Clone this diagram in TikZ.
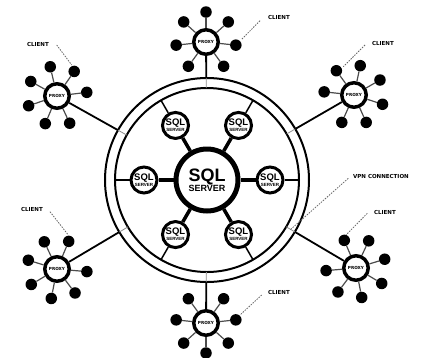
\documentclass[tikz,border=0pt]{standalone}
\usepackage{fontspec}
\setmainfont{Liberation Sans}
\newfontfamily\notefont{DejaVu Sans}
\usetikzlibrary{calc}
\begin{document}
\begin{tikzpicture}[x=1pt,y=1pt,
  hub/.style={circle,draw,line width=5pt,fill=white,minimum size=62pt,inner sep=0pt,align=center,
    font=\bfseries\fontsize{9}{10}\selectfont},
  sat/.style={circle,draw,line width=3pt,fill=white,minimum size=26pt,inner sep=0pt,align=center,
    font=\bfseries\fontsize{4.5}{5.8}\selectfont},
  proxy/.style={circle,draw,line width=3.5pt,fill=white,minimum size=24.5pt,inner sep=0pt,
    font=\notefont\bfseries\fontsize{4.2}{5}\selectfont},
  client/.style={circle,fill=black,minimum size=11.5pt,inner sep=0pt},
  spoke/.style={line width=3.5pt},
  tie/.style={line width=1.5pt},
  link/.style={line width=1.8pt},
  gap/.style={line width=0.8pt,black!45},
  leaf/.style={line width=1.2pt,black!70},
  note/.style={font=\notefont\bfseries\fontsize{5.5}{6}\selectfont,inner sep=0pt},
  lead/.style={line width=0.8pt,black!60,dash pattern=on 1.5pt off 1.2pt}
]
\useasboundingbox (-207,-177) rectangle (215,180);
\coordinate (O) at (0,0);

% VPN ring
\draw[line width=2pt] (O) circle[radius=102pt];
\draw[line width=2pt] (O) circle[radius=92pt];

% central server and its satellites
\node[hub] (sql) at (O) {{\fontsize{18}{18}\selectfont SQL}\\SERVER};
\foreach \k in {0,...,5} {
  \node[sat] (s\k) at (\k*60:63) {{\fontsize{9.5}{9.5}\selectfont SQL}\\SERVER};
  \coordinate (s\k-r) at ($(O)!92pt!(s\k)$);
  \draw[spoke] (sql) -- (s\k);
  \draw[tie] (s\k) -- (s\k-r);
}

% proxies with their clients
\node[proxy] (pT)  at (-1,138)   {PROXY};
\node[proxy] (pUR) at (147,85)   {PROXY};
\node[proxy] (pUL) at (-150,84)  {PROXY};
\node[proxy] (pLL) at (-150,-89) {PROXY};
\node[proxy] (pLR) at (149,-88)  {PROXY};
\node[proxy] (pB)  at (-1,-143)  {PROXY};

\foreach \n/\t in {pT/270,pUR/210,pUL/331,pLL/31,pLR/149,pB/90} {
  \coordinate (\n-o) at ($(O)!102pt!(\n)$);
  \coordinate (\n-i) at ($(O)!92pt!(\n)$);
  \draw[link] (\n) -- (\n-o);
  \draw[gap] (\n-o) -- (\n-i);
  \foreach \k in {0,...,6} {
    \pgfmathsetmacro\a{\t+36+48*\k}
    \node[client] (\n-c\k) at ($(\n)+(\a:30)$) {};
    \draw[leaf] (\n) -- (\n-c\k);
  }
}

% labels with dashed leaders
\node[note] (lT) at (72,163) {CLIENT};
\coordinate (lT-a) at (53,159.3);  \coordinate (lT-b) at (34.7,140.7);
\draw[lead] (lT-a) -- (lT-b);

\node[note] (lUL) at (-169,136) {CLIENT};
\coordinate (lUL-a) at (-150.3,135); \coordinate (lUL-b) at (-135.3,115);
\draw[lead] (lUL-a) -- (lUL-b);

\node[note] (lUR) at (176,137) {CLIENT};
\coordinate (lUR-a) at (158,135); \coordinate (lUR-b) at (136.3,113.3);
\draw[lead] (lUR-a) -- (lUR-b);

\node[note] (lLL) at (-175,-29) {CLIENT};
\coordinate (lLL-a) at (-157,-31.7); \coordinate (lLL-b) at (-138.7,-55);
\draw[lead] (lLL-a) -- (lLL-b);

\node[note] (lLR) at (178,-32) {CLIENT};
\coordinate (lLR-a) at (160.3,-33.3); \coordinate (lLR-b) at (139,-55);
\draw[lead] (lLR-a) -- (lLR-b);

\node[note] (lVPN) at (174,4) {VPN CONNECTION};
\coordinate (lVPN-a) at (141.3,1.7); \coordinate (lVPN-b) at (83,-50);
\draw[lead] (lVPN-a) -- (lVPN-b);

\node[note] (lB) at (72,-112) {CLIENT};
\coordinate (lB-a) at (54.7,-115); \coordinate (lB-b) at (33,-135);
\draw[lead] (lB-a) -- (lB-b);
\end{tikzpicture}
\end{document}
